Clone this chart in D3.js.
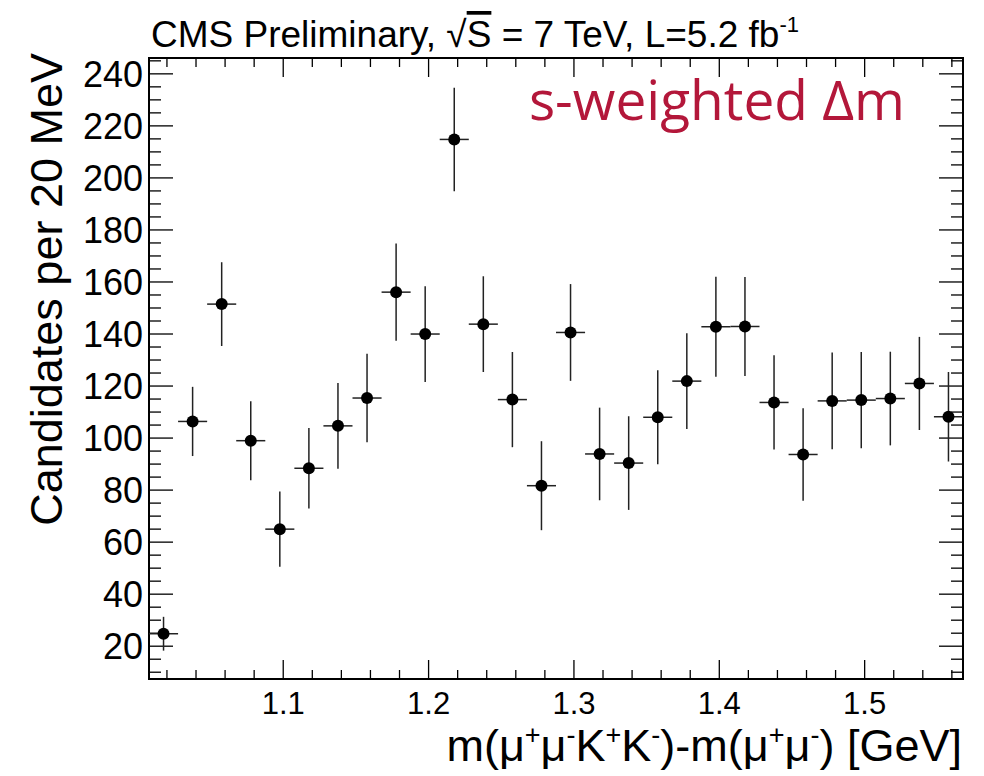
<!DOCTYPE html>
<html>
<head>
<meta charset="utf-8">
<script src="https://cdn.jsdelivr.net/npm/d3@7"></script>
<style>
  html, body { margin: 0; padding: 0; background: #fff; }
  svg { display: block; }
  text { font-family: "Liberation Sans", Arial, Helvetica, sans-serif; fill: #000; }
</style>
</head>
<body>
<svg id="chart" width="984" height="776"></svg>
<script>
// Bin centres of the Δm histogram (GeV), 20 MeV bins
const binCenters = [1.018, 1.038, 1.058, 1.078, 1.098, 1.118, 1.138, 1.158, 1.178, 1.198,
                    1.218, 1.238, 1.258, 1.278, 1.298, 1.318, 1.338, 1.358, 1.378, 1.398,
                    1.418, 1.438, 1.458, 1.478, 1.498, 1.518, 1.538, 1.558];
// s-weighted candidates per bin
const counts = [24.6, 106.2, 151.3, 98.8, 64.8, 88.2, 104.5, 115.2, 155.9, 139.8,
                214.6, 143.6, 114.6, 81.5, 140.4, 93.7, 90.2, 107.8, 121.7, 142.6,
                142.7, 113.5, 93.5, 114.1, 114.4, 115.0, 120.8, 108.0];
// statistical uncertainty per bin
const errors = [6.5, 13.3, 16.1, 15.2, 14.5, 15.5, 16.5, 17.0, 18.7, 18.4,
                19.9, 18.4, 18.3, 17.1, 18.6, 17.8, 18.0, 18.1, 18.4, 19.2,
                19.0, 18.1, 17.8, 18.6, 18.5, 18.0, 17.9, 17.2];
const binWidth = 0.02;

const xMajorTicks = [1.1, 1.2, 1.3, 1.4, 1.5];
const xMinorTicks = [1.02, 1.04, 1.06, 1.08, 1.12, 1.14, 1.16, 1.18, 1.22, 1.24, 1.26, 1.28,
                     1.32, 1.34, 1.36, 1.38, 1.42, 1.44, 1.46, 1.48, 1.52, 1.54, 1.56];
const yMajorTicks = [20, 40, 60, 80, 100, 120, 140, 160, 180, 200, 220, 240];
const yMinorTicks = [10, 15, 25, 30, 35, 45, 50, 55, 65, 70, 75, 85, 90, 95, 105, 110, 115,
                     125, 130, 135, 145, 150, 155, 165, 170, 175, 185, 190, 195, 205, 210,
                     215, 225, 230, 235, 245];

const frame = { left: 149, right: 963, top: 58, bottom: 679 };
const svg = d3.select("#chart");

const x = d3.scaleLinear().domain([1.008, 1.568]).range([frame.left, frame.right]);
const y = d3.scaleLinear().domain([7.2, 245.9]).range([frame.bottom, frame.top]);

const W = frame.right - frame.left, H = frame.bottom - frame.top;

// inward ticks on all four sides
function tickAxis(axisFn, scale, values, size, transform) {
  svg.append("g")
    .attr("transform", transform)
    .call(axisFn(scale).tickValues(values).tickSize(size).tickFormat(""))
    .call(g => g.select(".domain").remove())
    .call(g => g.selectAll("line").attr("stroke", "#000").attr("stroke-width", 1.3));
}
tickAxis(d3.axisBottom, x, xMajorTicks, -19, `translate(0,${frame.bottom})`);
tickAxis(d3.axisBottom, x, xMinorTicks, -9, `translate(0,${frame.bottom})`);
tickAxis(d3.axisTop, x, xMajorTicks, -19, `translate(0,${frame.top})`);
tickAxis(d3.axisTop, x, xMinorTicks, -9, `translate(0,${frame.top})`);
tickAxis(d3.axisLeft, y, yMajorTicks, -24, `translate(${frame.left},0)`);
tickAxis(d3.axisLeft, y, yMinorTicks, -12, `translate(${frame.left},0)`);
tickAxis(d3.axisRight, y, yMajorTicks, -24, `translate(${frame.right},0)`);
tickAxis(d3.axisRight, y, yMinorTicks, -12, `translate(${frame.right},0)`);

// tick labels
svg.append("g")
  .attr("transform", `translate(0,${frame.bottom})`)
  .call(d3.axisBottom(x).tickValues(xMajorTicks).tickSize(0).tickPadding(0).tickFormat(d3.format(".1f")))
  .call(g => g.select(".domain").remove())
  .call(g => g.selectAll("text")
    .attr("y", 35).attr("dy", null)
    .style("font-size", "31px")
    .style("font-family", '"Liberation Sans", Arial, sans-serif')
    .attr("fill", "#000"));

svg.append("g")
  .attr("transform", `translate(${frame.left},0)`)
  .call(d3.axisLeft(y).tickValues(yMajorTicks).tickSize(0).tickPadding(6))
  .call(g => g.select(".domain").remove())
  .call(g => g.selectAll("text")
    .attr("dy", "0.36em")
    .style("font-size", "36px")
    .style("font-family", '"Liberation Sans", Arial, sans-serif')
    .attr("fill", "#000"));

// frame
svg.append("rect")
  .attr("x", frame.left).attr("y", frame.top)
  .attr("width", W).attr("height", H)
  .attr("fill", "none").attr("stroke", "#000").attr("stroke-width", 2);

// data points with error bars
const pts = binCenters.map((c, i) => ({ c, v: counts[i], e: errors[i] }));
const gp = svg.append("g");
gp.selectAll("line.ev").data(pts).join("line")
  .attr("class", "ev")
  .attr("x1", d => x(d.c)).attr("x2", d => x(d.c))
  .attr("y1", d => y(d.v - d.e)).attr("y2", d => y(Math.min(d.v + d.e, 245.9)))
  .attr("stroke", "#222").attr("stroke-width", 1.5);
gp.selectAll("line.eh").data(pts).join("line")
  .attr("class", "eh")
  .attr("x1", d => x(d.c - binWidth / 2)).attr("x2", d => x(Math.min(d.c + binWidth / 2, 1.568)))
  .attr("y1", d => y(d.v)).attr("y2", d => y(d.v))
  .attr("stroke", "#222").attr("stroke-width", 1.5);
gp.selectAll("circle").data(pts).join("circle")
  .attr("cx", d => x(d.c)).attr("cy", d => y(d.v))
  .attr("r", 6).attr("fill", "#000");

// header
const title = svg.append("text").attr("x", 151).attr("y", 47).style("font-size", "37px");
title.append("tspan").text("CMS Preliminary, ");
title.append("tspan").text("\u221A");
title.append("tspan").text("S").style("text-decoration", "overline");
title.append("tspan").text(" = 7 TeV, L=5.2 fb");
title.append("tspan").text("-1").attr("dy", -15).style("font-size", "22px");

// axis titles
const xt = svg.append("text")
  .attr("x", frame.right - 1).attr("y", 761)
  .attr("text-anchor", "end")
  .style("font-size", "45px");
function sup(parent, s) {
  parent.append("tspan").text(s).attr("dy", -17).style("font-size", "27px");
}
function base(parent, s) {
  parent.append("tspan").text(s).attr("dy", 17);
}
xt.append("tspan").text("m(\u03BC");
sup(xt, "+"); base(xt, "\u03BC"); sup(xt, "-"); base(xt, "K"); sup(xt, "+"); base(xt, "K"); sup(xt, "-");
base(xt, ")-m(\u03BC"); sup(xt, "+"); base(xt, "\u03BC"); sup(xt, "-"); base(xt, ") [GeV]");

svg.append("text")
  .attr("transform", "translate(62,53) rotate(-90)")
  .attr("text-anchor", "end")
  .style("font-size", "45px")
  .text("Candidates per 20 MeV");

// annotation
svg.append("text")
  .attr("x", 905).attr("y", 120)
  .attr("text-anchor", "end")
  .style("font-family", '"Open Sans", "Noto Sans", sans-serif')
  .style("font-size", "55px")
  .style("fill", "#b3173a")
  .text("s-weighted \u0394m");
</script>
</body>
</html>
